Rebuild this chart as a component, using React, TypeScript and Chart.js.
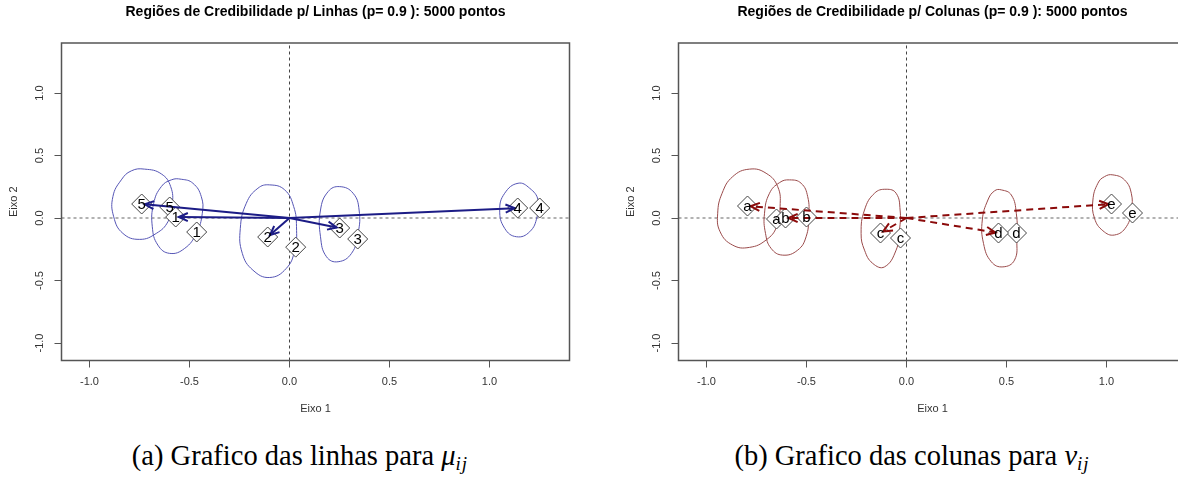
import React, { useEffect, useRef } from "react";
import { Chart, registerables } from "chart.js";

Chart.register(...registerables);

// Shared axis range and ticks (both axes use the same limits)
const AXIS_MIN = -1.14;
const AXIS_MAX = 1.4;
const TICK_VALUES = [-1, -0.5, 0, 0.5, 1];
const TICK_LABELS = ["-1.0", "-0.5", "0.0", "0.5", "1.0"];

// Linhas: posterior means (arrowed) and reference coordinates
const ROW_LABELS = ["1", "2", "3", "4", "5"];
const ROW_POST_X = [-0.569, -0.109, 0.251, 1.141, -0.739];
const ROW_POST_Y = [0.008, -0.152, -0.08, 0.08, 0.112];
const ROW_REF_X = [-0.464, 0.031, 0.341, 1.251, -0.599];
const ROW_REF_Y = [-0.112, -0.233, -0.168, 0.08, 0.088];

// Linhas: credibility region contours
const ROW_REGION_1: [number, number][] = [
  [-0.541, 0.31], [-0.483, 0.278], [-0.441, 0.171], [-0.436, 0.038], [-0.466, -0.123], [-0.524, -0.243],
  [-0.599, -0.283], [-0.658, -0.217], [-0.686, -0.07], [-0.679, 0.118], [-0.641, 0.251], [-0.591, 0.305],
];
const ROW_REGION_2: [number, number][] = [
  [-0.099, 0.265], [-0.024, 0.225], [0.021, 0.091], [0.035, -0.07], [0.026, -0.257], [-0.016, -0.403],
  [-0.099, -0.476], [-0.183, -0.417], [-0.236, -0.283], [-0.246, -0.083], [-0.216, 0.118], [-0.158, 0.238],
];
const ROW_REGION_3: [number, number][] = [
  [0.251, 0.251], [0.318, 0.198], [0.348, 0.064], [0.343, -0.123], [0.31, -0.283],
  [0.243, -0.35], [0.185, -0.31], [0.155, -0.15], [0.155, 0.064], [0.193, 0.211],
];
const ROW_REGION_4: [number, number][] = [
  [1.143, 0.278], [1.201, 0.238], [1.243, 0.144], [1.238, 0.01], [1.201, -0.11],
  [1.135, -0.15], [1.076, -0.083], [1.051, 0.064], [1.076, 0.198],
];
const ROW_REGION_5: [number, number][] = [
  [-0.724, 0.391], [-0.641, 0.353], [-0.594, 0.251], [-0.586, 0.104], [-0.608, -0.03], [-0.666, -0.123],
  [-0.749, -0.171], [-0.833, -0.123], [-0.879, 0.01], [-0.883, 0.171], [-0.841, 0.305], [-0.791, 0.377],
];

// Colunas: posterior means (arrowed) and reference coordinates
const COL_LABELS = ["a", "b", "c", "d", "e"];
const COL_POST_X = [-0.795, -0.605, -0.13, 0.46, 1.025];
const COL_POST_Y = [0.096, 0.0, -0.12, -0.12, 0.112];
const COL_REF_X = [-0.65, -0.5, -0.03, 0.55, 1.13];
const COL_REF_Y = [-0.008, 0.008, -0.16, -0.12, 0.04];

// Colunas: credibility region contours
const COL_REGION_A: [number, number][] = [
  [-0.785, 0.391], [-0.702, 0.358], [-0.644, 0.251], [-0.632, 0.091], [-0.649, -0.07], [-0.702, -0.176],
  [-0.785, -0.235], [-0.869, -0.217], [-0.932, -0.11], [-0.944, 0.038], [-0.922, 0.198], [-0.869, 0.331],
];
const COL_REGION_B: [number, number][] = [
  [-0.585, 0.305], [-0.527, 0.278], [-0.494, 0.171], [-0.489, 0.01], [-0.502, -0.15], [-0.544, -0.257],
  [-0.619, -0.297], [-0.677, -0.243], [-0.705, -0.123], [-0.71, 0.038], [-0.685, 0.198], [-0.635, 0.283],
];
const COL_REGION_C: [number, number][] = [
  [-0.102, 0.23], [-0.052, 0.198], [-0.032, 0.064], [-0.035, -0.096], [-0.052, -0.257], [-0.11, -0.391],
  [-0.169, -0.363], [-0.21, -0.257], [-0.227, -0.123], [-0.21, 0.064], [-0.16, 0.198],
];
const COL_REGION_D: [number, number][] = [
  [0.474, 0.225], [0.524, 0.184], [0.549, 0.038], [0.552, -0.176], [0.54, -0.337], [0.482, -0.391],
  [0.424, -0.35], [0.385, -0.203], [0.379, -0.016], [0.407, 0.144], [0.44, 0.217],
];
const COL_REGION_E: [number, number][] = [
  [1.032, 0.345], [1.09, 0.305], [1.124, 0.198], [1.124, 0.064], [1.099, -0.07], [1.04, -0.136],
  [0.982, -0.102], [0.94, -0.002], [0.932, 0.144], [0.957, 0.278], [0.99, 0.331],
];

const SANS = "'Liberation Sans', Arial, sans-serif";
const CANVAS_W = 590;
const CANVAS_H = 420;

type PanelProps = {
  title: string;
  labels: string[];
  postX: number[];
  postY: number[];
  refX: number[];
  refY: number[];
  regions: [number, number][][];
  arrowColor: string;
  arrowDash: number[];
  regionColor: string;
};

// Closed contour: wrap one point on each side so the spline stays smooth at the seam
function closedLoop(pts: [number, number][]) {
  const n = pts.length;
  return [pts[n - 1], ...pts, pts[0], pts[1]].map(([x, y]) => ({ x, y }));
}

function drawArrow(ctx: CanvasRenderingContext2D, x0: number, y0: number, x1: number, y1: number,
  color: string, dash: number[]) {
  const ang = Math.atan2(y1 - y0, x1 - x0);
  const gap = 3;
  const tx = x1 - Math.cos(ang) * gap;
  const ty = y1 - Math.sin(ang) * gap;
  const head = 10;
  const spread = (24 * Math.PI) / 180;
  ctx.strokeStyle = color;
  ctx.lineWidth = 2;
  ctx.setLineDash(dash);
  ctx.beginPath();
  ctx.moveTo(x0, y0);
  ctx.lineTo(tx, ty);
  ctx.stroke();
  ctx.setLineDash([]);
  ctx.beginPath();
  ctx.moveTo(tx - head * Math.cos(ang - spread), ty - head * Math.sin(ang - spread));
  ctx.lineTo(tx, ty);
  ctx.lineTo(tx - head * Math.cos(ang + spread), ty - head * Math.sin(ang + spread));
  ctx.stroke();
}

const overlayPlugin = {
  id: "biplotOverlay",
  afterDatasetsDraw(chart: any, _args: any, opts: any) {
    const { ctx, chartArea, scales } = chart;
    const xs = scales.x;
    const ys = scales.y;
    ctx.save();
    ctx.beginPath();
    ctx.rect(chartArea.left, chartArea.top, chartArea.right - chartArea.left, chartArea.bottom - chartArea.top);
    ctx.clip();
    const ox = xs.getPixelForValue(0);
    const oy = ys.getPixelForValue(0);
    ctx.lineCap = "butt";
    opts.postX.forEach((vx: number, i: number) => {
      drawArrow(ctx, ox, oy, xs.getPixelForValue(vx), ys.getPixelForValue(opts.postY[i]), opts.arrowColor, opts.arrowDash);
    });
    ctx.fillStyle = "#000";
    ctx.font = `15px ${SANS}`;
    ctx.textAlign = "center";
    ctx.textBaseline = "middle";
    opts.labels.forEach((lab: string, i: number) => {
      ctx.fillText(lab, xs.getPixelForValue(opts.refX[i]), ys.getPixelForValue(opts.refY[i]) + 1);
      ctx.fillText(lab, xs.getPixelForValue(opts.postX[i]), ys.getPixelForValue(opts.postY[i]) + 1);
    });
    ctx.restore();
    // plot frame
    ctx.save();
    ctx.strokeStyle = "#555";
    ctx.lineWidth = 1.5;
    ctx.strokeRect(chartArea.left, chartArea.top, chartArea.right - chartArea.left, chartArea.bottom - chartArea.top);
    ctx.restore();
  },
};

function axisOptions(which: "x" | "y") {
  const base: any = {
    type: "linear",
    min: AXIS_MIN,
    max: AXIS_MAX,
    afterBuildTicks: (s: any) => {
      s.ticks = TICK_VALUES.map((v) => ({ value: v }));
    },
    grid: { drawOnChartArea: false, drawTicks: true, tickLength: 7, tickColor: "#555", tickWidth: 1 },
    border: { display: false },
  };
  const tickFont = { family: SANS, size: 11 };
  const label = (v: number) => TICK_LABELS[TICK_VALUES.indexOf(v)] ?? "";
  if (which === "x") {
    return {
      ...base,
      position: "bottom",
      afterFit: (s: any) => {
        s.height = CANVAS_H - 360.5;
      },
      ticks: { callback: label, minRotation: 0, maxRotation: 0, padding: 8, font: tickFont, color: "#333" },
      title: { display: true, text: "Eixo 1", font: tickFont, color: "#333", padding: { top: 0, bottom: 4.4 } },
    };
  }
  return {
    ...base,
    position: "left",
    afterFit: (s: any) => {
      s.width = 61.5;
    },
    ticks: { callback: label, minRotation: 90, maxRotation: 90, crossAlign: "center", padding: 5, font: tickFont, color: "#333" },
    title: { display: true, text: "Eixo 2", font: tickFont, color: "#333", padding: { top: 7.4, bottom: 0 } },
  };
}

function BiplotPanel(p: PanelProps) {
  const ref = useRef<HTMLCanvasElement>(null);
  useEffect(() => {
    if (!ref.current) return;
    const datasets: any[] = [];
    const diamond = {
      showLine: false,
      pointStyle: "rectRot",
      pointRadius: 10,
      pointBackgroundColor: "#fff",
      pointBorderColor: "#444",
      pointBorderWidth: 1,
      order: 0,
    };
    // posterior points and reference points as diamonds
    datasets.push({ ...diamond, data: p.postX.map((x, i) => ({ x, y: p.postY[i] })) });
    datasets.push({ ...diamond, data: p.refX.map((x, i) => ({ x, y: p.refY[i] })) });
    p.regions.forEach((reg) => {
      const n = reg.length;
      datasets.push({
        data: closedLoop(reg),
        showLine: true,
        borderColor: p.regionColor,
        borderWidth: 1,
        pointRadius: 0,
        tension: 0.45,
        fill: false,
        segment: {
          borderColor: (c: any) => (c.p0DataIndex === 0 || c.p0DataIndex === n + 1 ? "rgba(0,0,0,0)" : p.regionColor),
        },
        order: 1,
      });
    });
    // reference lines through the origin
    datasets.push({
      data: [{ x: 0, y: AXIS_MIN }, { x: 0, y: AXIS_MAX }],
      showLine: true,
      borderColor: "#444",
      borderWidth: 1,
      borderDash: [3, 3],
      pointRadius: 0,
      order: 2,
    });
    datasets.push({
      data: [{ x: AXIS_MIN, y: 0 }, { x: AXIS_MAX, y: 0 }],
      showLine: true,
      borderColor: "#999",
      borderWidth: 1.5,
      borderDash: [3, 3],
      pointRadius: 0,
      order: 2,
    });

    const chart = new Chart(ref.current, {
      type: "line",
      data: { datasets },
      options: {
        animation: false,
        responsive: false,
        events: [],
        layout: { padding: { left: 0, right: CANVAS_W - 569.5, top: 0, bottom: 0 } },
        scales: { x: axisOptions("x"), y: axisOptions("y") },
        plugins: {
          legend: { display: false },
          tooltip: { enabled: false },
          title: {
            display: true,
            text: p.title,
            fullSize: false,
            color: "#000",
            font: { family: SANS, size: 14, weight: "bold", lineHeight: 1.2 },
            padding: { top: 3.5, bottom: 22.7 },
          },
          biplotOverlay: {
            labels: p.labels,
            postX: p.postX,
            postY: p.postY,
            refX: p.refX,
            refY: p.refY,
            arrowColor: p.arrowColor,
            arrowDash: p.arrowDash,
          },
        } as any,
      },
      plugins: [overlayPlugin],
    } as any);
    return () => chart.destroy();
  }, []);
  return <canvas ref={ref} width={CANVAS_W} height={CANVAS_H} style={{ display: "block" }} />;
}

const captionStyle: React.CSSProperties = {
  position: "absolute",
  top: 439,
  width: CANVAS_W,
  textAlign: "center",
  fontFamily: "'Liberation Serif', 'Times New Roman', serif",
  fontSize: 28.5,
  lineHeight: "34px",
  color: "#000",
  whiteSpace: "nowrap",
};

const subStyle: React.CSSProperties = { fontSize: 19, fontStyle: "italic", verticalAlign: "-5px", letterSpacing: 1 };

export default function App() {
  return (
    <div style={{ position: "fixed", left: 0, top: 0, width: 1178, height: 480, overflow: "hidden", background: "#fff" }}>
      <div style={{ position: "absolute", left: 0, top: 0 }}>
        <BiplotPanel
          title="Regiões de Credibilidade p/ Linhas (p= 0.9 ): 5000 pontos"
          labels={ROW_LABELS}
          postX={ROW_POST_X}
          postY={ROW_POST_Y}
          refX={ROW_REF_X}
          refY={ROW_REF_Y}
          regions={[ROW_REGION_1, ROW_REGION_2, ROW_REGION_3, ROW_REGION_4, ROW_REGION_5]}
          arrowColor="#1c1c86"
          arrowDash={[]}
          regionColor="#5555b5"
        />
      </div>
      <div style={{ position: "absolute", left: 617, top: 0 }}>
        <BiplotPanel
          title="Regiões de Credibilidade p/ Colunas (p= 0.9 ): 5000 pontos"
          labels={COL_LABELS}
          postX={COL_POST_X}
          postY={COL_POST_Y}
          refX={COL_REF_X}
          refY={COL_REF_Y}
          regions={[COL_REGION_A, COL_REGION_B, COL_REGION_C, COL_REGION_D, COL_REGION_E]}
          arrowColor="#8b0a0a"
          arrowDash={[7, 5]}
          regionColor="#9a4a4a"
        />
      </div>
      <div style={{ ...captionStyle, left: 5 }}>
        (a) Grafico das linhas para <i>μ</i>
        <sub style={subStyle}>ij</sub>
      </div>
      <div style={{ ...captionStyle, left: 617 }}>
        (b) Grafico das colunas para <i>ν</i>
        <sub style={subStyle}>ij</sub>
      </div>
    </div>
  );
}
